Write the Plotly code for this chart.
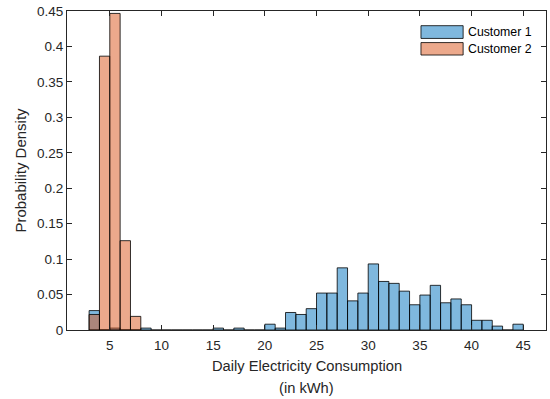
import plotly.graph_objects as go

# Histogram bins (left edges, bin width 1 kWh)
bin_left = list(range(3, 45))
bin_width = 1.0

customer1_density = [
    0.0274, 0.0, 0.0027, 0.0, 0.0, 0.0027, 0.0, 0.0, 0.0, 0.0,
    0.0, 0.0, 0.0027, 0.0, 0.0027, 0.0, 0.0, 0.0082, 0.0027, 0.0247,
    0.0219, 0.0301, 0.0521, 0.0521, 0.0877, 0.0411, 0.0521, 0.0932, 0.0685, 0.0658,
    0.0548, 0.0356, 0.0493, 0.0630, 0.0384, 0.0438, 0.0356, 0.0137, 0.0137, 0.0055,
    0.0, 0.0082,
]
customer2_bin_left = [3, 4, 5, 6, 7]
customer2_density = [0.0219, 0.3863, 0.4466, 0.1260, 0.0192]

series_names = ["Customer 1", "Customer 2"]
series_colors = ["rgba(0,114,189,0.5)", "rgba(217,83,25,0.5)"]

x_ticks = [5, 10, 15, 20, 25, 30, 35, 40, 45]
y_ticks = [0, 0.05, 0.1, 0.15, 0.2, 0.25, 0.3, 0.35, 0.4, 0.45]
y_tick_text = ["0", "0.05", "0.1", "0.15", "0.2", "0.25", "0.3", "0.35", "0.4", "0.45"]
x_title_lines = ["Daily Electricity Consumption", "(in kWh)"]

FONT = "Liberation Sans, Arial, sans-serif"
AX = "rgb(38,38,38)"

fig = go.Figure()
fig.add_trace(go.Bar(
    x=bin_left, y=customer1_density, width=bin_width, offset=0,
    name=series_names[0], marker=dict(color=series_colors[0], line=dict(color="black", width=0.8)),
    showlegend=False,
))
fig.add_trace(go.Bar(
    x=customer2_bin_left, y=customer2_density, width=bin_width, offset=0,
    name=series_names[1], marker=dict(color=series_colors[1], line=dict(color="black", width=0.8)),
    showlegend=False,
))

# Legend (MATLAB style wide swatches)
legend_rows = [(0.914, 0.954, 0.934), (0.862, 0.901, 0.881)]
for (y0, y1, yc), name, col in zip(legend_rows, series_names, series_colors):
    fig.add_shape(type="rect", xref="paper", yref="paper", x0=0.739, x1=0.827, y0=y0, y1=y1,
                  fillcolor=col, line=dict(color="black", width=0.8))
    fig.add_annotation(xref="paper", yref="paper", x=0.833, y=yc, text=name, showarrow=False,
                       xanchor="left", yanchor="middle", font=dict(family=FONT, size=12.3, color="black"))

# X axis title (two lines, MATLAB spacing)
for txt, yp in zip(x_title_lines, [-0.1129, -0.1818]):
    fig.add_annotation(xref="paper", yref="paper", x=0.5, y=yp, text=txt, showarrow=False,
                       xanchor="center", yanchor="middle", font=dict(family=FONT, size=14.7, color=AX))

fig.update_layout(
    width=550, height=399,
    margin=dict(l=67, r=4, t=11, b=69),
    barmode="overlay",
    plot_bgcolor="white", paper_bgcolor="white",
    font=dict(family=FONT, size=13.3, color=AX),
)
fig.update_xaxes(
    range=[0.86, 47.2], tickvals=x_ticks, ticks="inside", ticklen=5, tickcolor=AX,
    showline=True, linecolor=AX, linewidth=1, mirror="ticks", showgrid=False, zeroline=False,
    tickfont=dict(size=13.5, color=AX), ticklabelstandoff=3,
)
fig.update_yaxes(
    range=[0, 0.45], tickvals=y_ticks, ticktext=y_tick_text, ticks="inside", ticklen=5, tickcolor=AX,
    showline=True, linecolor=AX, linewidth=1, mirror="ticks", showgrid=False, zeroline=False,
    tickfont=dict(size=13.5, color=AX),
    title=dict(text="Probability Density", font=dict(size=15, color=AX), standoff=6),
)

fig.write_html("out.html")
